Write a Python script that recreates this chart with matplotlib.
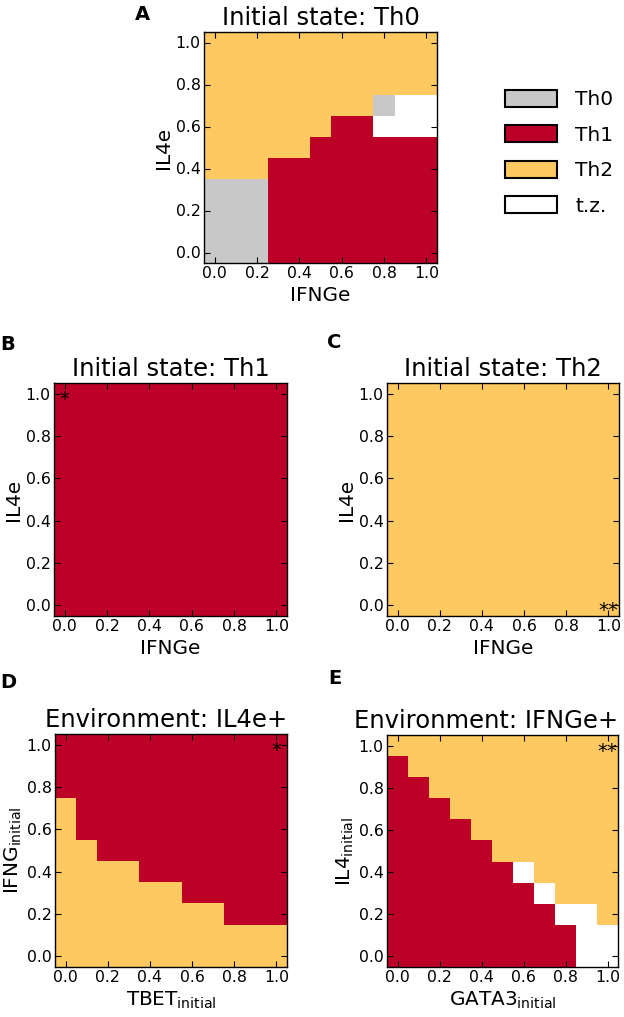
import numpy as np
import matplotlib
matplotlib.use("Agg")
import matplotlib.pyplot as plt
from matplotlib.colors import ListedColormap, BoundaryNorm
from matplotlib.patches import Patch

# states: 0 = Th0, 1 = Th1, 2 = Th2, 3 = t.z.
state_names = ["Th0", "Th1", "Th2", "t.z."]
state_colors = ["#c8c8c8", "#bc0027", "#fdc960", "#ffffff"]

ticks = [0.0, 0.2, 0.4, 0.6, 0.8, 1.0]

# rows go from y = 1.0 (top) down to y = 0.0, columns x = 0.0 .. 1.0
grid_A = [
    [2, 2, 2, 2, 2, 2, 2, 2, 2, 2, 2],
    [2, 2, 2, 2, 2, 2, 2, 2, 2, 2, 2],
    [2, 2, 2, 2, 2, 2, 2, 2, 2, 2, 2],
    [2, 2, 2, 2, 2, 2, 2, 2, 0, 3, 3],
    [2, 2, 2, 2, 2, 2, 1, 1, 3, 3, 3],
    [2, 2, 2, 2, 2, 1, 1, 1, 1, 1, 1],
    [2, 2, 2, 1, 1, 1, 1, 1, 1, 1, 1],
    [0, 0, 0, 1, 1, 1, 1, 1, 1, 1, 1],
    [0, 0, 0, 1, 1, 1, 1, 1, 1, 1, 1],
    [0, 0, 0, 1, 1, 1, 1, 1, 1, 1, 1],
    [0, 0, 0, 1, 1, 1, 1, 1, 1, 1, 1],
]
grid_B = [[1] * 11 for _ in range(11)]
grid_C = [[2] * 11 for _ in range(11)]
grid_D = [
    [1, 1, 1, 1, 1, 1, 1, 1, 1, 1, 1],
    [1, 1, 1, 1, 1, 1, 1, 1, 1, 1, 1],
    [1, 1, 1, 1, 1, 1, 1, 1, 1, 1, 1],
    [2, 1, 1, 1, 1, 1, 1, 1, 1, 1, 1],
    [2, 1, 1, 1, 1, 1, 1, 1, 1, 1, 1],
    [2, 2, 1, 1, 1, 1, 1, 1, 1, 1, 1],
    [2, 2, 2, 2, 1, 1, 1, 1, 1, 1, 1],
    [2, 2, 2, 2, 2, 2, 1, 1, 1, 1, 1],
    [2, 2, 2, 2, 2, 2, 2, 2, 1, 1, 1],
    [2, 2, 2, 2, 2, 2, 2, 2, 2, 2, 2],
    [2, 2, 2, 2, 2, 2, 2, 2, 2, 2, 2],
]
grid_E = [
    [2, 2, 2, 2, 2, 2, 2, 2, 2, 2, 2],
    [1, 2, 2, 2, 2, 2, 2, 2, 2, 2, 2],
    [1, 1, 2, 2, 2, 2, 2, 2, 2, 2, 2],
    [1, 1, 1, 2, 2, 2, 2, 2, 2, 2, 2],
    [1, 1, 1, 1, 2, 2, 2, 2, 2, 2, 2],
    [1, 1, 1, 1, 1, 2, 2, 2, 2, 2, 2],
    [1, 1, 1, 1, 1, 1, 3, 2, 2, 2, 2],
    [1, 1, 1, 1, 1, 1, 1, 3, 2, 2, 2],
    [1, 1, 1, 1, 1, 1, 1, 1, 3, 3, 2],
    [1, 1, 1, 1, 1, 1, 1, 1, 1, 3, 3],
    [1, 1, 1, 1, 1, 1, 1, 1, 1, 3, 3],
]

cmap = ListedColormap(state_colors)
norm = BoundaryNorm([-0.5, 0.5, 1.5, 2.5, 3.5], cmap.N)

W, H = 624, 1017
fig = plt.figure(figsize=(W / 100, H / 100), dpi=100)


def px_axes(left, top, right, bottom):
    return fig.add_axes([left / W, 1 - bottom / H, (right - left) / W, (bottom - top) / H])


def panel(ax, grid, title, xlabel, ylabel, mark=None, mark_xy=None, title_loc="center"):
    ax.imshow(np.array(grid), cmap=cmap, norm=norm, origin="upper",
              extent=[-0.05, 1.05, -0.05, 1.05], aspect="auto", interpolation="nearest")
    ax.set_xlim(-0.05, 1.05)
    ax.set_ylim(-0.05, 1.05)
    ax.set_xticks(ticks)
    ax.set_yticks(ticks)
    ax.set_xticklabels(["%.1f" % t for t in ticks])
    ax.set_yticklabels(["%.1f" % t for t in ticks])
    ax.tick_params(direction="in", top=True, right=True, length=4, width=0.8,
                   labelsize=11.3, pad=2.5)
    ax.set_title(title, fontsize=17.5, pad=5, loc=title_loc)
    ax.set_xlabel(xlabel, fontsize=14.4, labelpad=3)
    ax.set_ylabel(ylabel, fontsize=14.4, labelpad=2)
    for s in ax.spines.values():
        s.set_linewidth(1.0)
    if mark:
        ax.annotate(mark, xy=mark_xy, xytext=(0, -4), textcoords="offset points",
                    ha="center", va="center", fontsize=14)


axA = px_axes(204, 32, 437, 263)
panel(axA, grid_A, "Initial state: Th0", "IFNGe", "IL4e")

axB = px_axes(54, 383, 287, 616)
panel(axB, grid_B, "Initial state: Th1", "IFNGe", "IL4e", "*", (0.0, 1.0))

axC = px_axes(387, 383, 619, 616)
panel(axC, grid_C, "Initial state: Th2", "IFNGe", "IL4e", "**", (1.0, 0.0))

axD = px_axes(55, 734, 287, 967)
panel(axD, grid_D, "Environment: IL4e+", r"TBET$_{\mathrm{initial}}$",
      r"IFNG$_{\mathrm{initial}}$", "*", (1.0, 1.0), title_loc="right")

axE = px_axes(387, 735, 618, 967)
panel(axE, grid_E, "Environment: IFNGe+", r"GATA3$_{\mathrm{initial}}$",
      r"IL4$_{\mathrm{initial}}$", "**", (1.0, 1.0), title_loc="right")

# panel letters
for letter, x, y in [("A", 142, 14), ("B", 8, 345), ("C", 334, 343),
                     ("D", 8, 683), ("E", 335, 678)]:
    fig.text(x / W, 1 - y / H, letter, fontsize=14, fontweight="bold",
             ha="center", va="center")

handles = [Patch(facecolor=c, edgecolor="black", linewidth=1.5) for c in state_colors]
fig.legend(handles, state_names, loc="upper left", bbox_to_anchor=(505 / W, 1 - 90 / H),
           frameon=False, fontsize=14.5, handlelength=2.6, handleheight=0.9,
           handletextpad=0.9, labelspacing=0.8, borderpad=0, borderaxespad=0)

fig.savefig("out.png", dpi=100)
